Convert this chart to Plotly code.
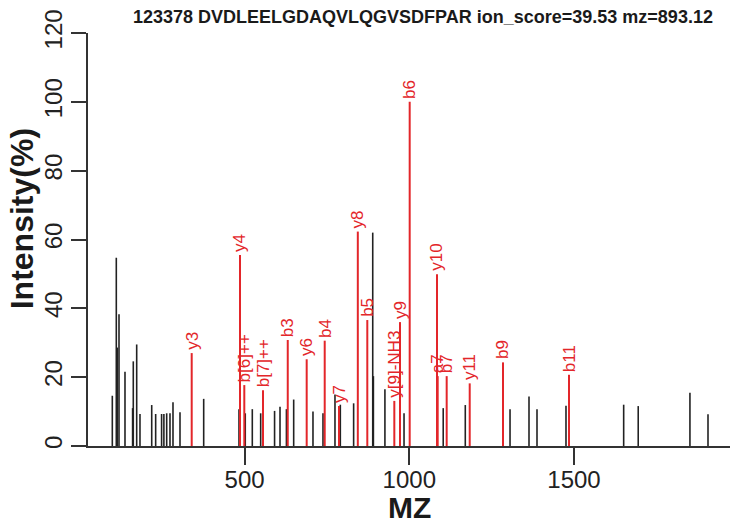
import plotly.graph_objects as go

title_text = "123378 DVDLEELGDAQVLQGVSDFPAR ion_score=39.53 mz=893.12"

# unmatched (black) peaks
black_mz = [98.4, 110.5, 113.5, 118.7, 136.9, 160.0, 162.1, 172.4, 182.4, 218.0,
            230.0, 248.0, 255.0, 263.5, 273.5, 282.6, 303.9, 375.8, 483.0, 502.0,
            523.4, 548.8, 591.0, 607.5, 627.0, 649.0, 707.6, 738.0, 774.4, 790.6,
            831.0, 889.0, 891.0, 926.0, 984.0, 1103.0, 1170.0, 1305.8, 1363.4, 1387.7,
            1475.7, 1650.8, 1695.0, 1852.0, 1906.8]
black_int = [14.6, 54.7, 28.6, 38.3, 21.6, 11.0, 24.6, 29.5, 9.3, 11.9,
             9.3, 9.3, 9.3, 9.5, 9.5, 12.7, 9.8, 13.7, 10.7, 9.5,
             10.7, 9.5, 10.2, 11.4, 10.7, 13.5, 10.0, 9.5, 15.0, 12.0,
             12.4, 62.0, 20.3, 16.5, 9.5, 11.0, 11.9, 10.7, 14.4, 10.7,
             11.7, 12.0, 11.6, 15.5, 9.2]

# matched (red) ion peaks
ion_labels = ["y3", "y4", "b[6]++", "b[7]++", "b3", "y6", "b4", "y7", "y8", "b5",
              "y[9]-NH3", "y9", "b6", "y10", "a7", "b7", "y11", "b9", "b11"]
ion_mz = [339.4, 486.0, 499.1, 555.9, 631.0, 688.5, 743.2, 786.6, 843.7, 872.5,
          954.5, 971.8, 1001.2, 1084.1, 1086.2, 1113.5, 1183.4, 1284.5, 1484.8]
ion_int = [27.0, 55.5, 17.7, 16.2, 30.8, 25.2, 30.6, 11.6, 62.3, 36.6,
           13.1, 36.0, 100.0, 49.9, 20.3, 20.3, 18.2, 24.3, 20.7]

x_ticks = [500, 1000, 1500]
y_ticks = [0, 20, 40, 60, 80, 100, 120]

RED = "#E3262A"
BLACK = "#222222"


def sticks(mz, inten):
    xs, ys = [], []
    for m, v in zip(mz, inten):
        xs += [m, m, None]
        ys += [0, v, None]
    return xs, ys


fig = go.Figure()
bx, by = sticks(black_mz, black_int)
fig.add_trace(go.Scatter(x=bx, y=by, mode="lines",
                         line=dict(color=BLACK, width=1.6),
                         hoverinfo="skip", showlegend=False))
rx, ry = sticks(ion_mz, ion_int)
fig.add_trace(go.Scatter(x=rx, y=ry, mode="lines",
                         line=dict(color=RED, width=2),
                         hoverinfo="skip", showlegend=False))

annotations = []
for lab, m, v in zip(ion_labels, ion_mz, ion_int):
    annotations.append(dict(x=m, y=v, xref="x", yref="y", text=lab,
                            textangle=-90, showarrow=False,
                            xanchor="center", yanchor="bottom", yshift=2,
                            borderpad=0,
                            font=dict(family="Liberation Sans", size=17, color=RED)))

# titles
annotations.append(dict(x=0.522, y=1.0387, xref="paper", yref="paper",
                        text=title_text, showarrow=False,
                        xanchor="center", yanchor="middle",
                        font=dict(family="Liberation Sans", size=18, color="#1a1a1a",
                                  weight="bold")))
annotations.append(dict(x=0.501, y=-0.150, xref="paper", yref="paper",
                        text="MZ", showarrow=False,
                        xanchor="center", yanchor="middle",
                        font=dict(family="Liberation Sans", size=30, color="#1a1a1a",
                                  weight="bold")))
annotations.append(dict(x=-0.1015, y=0.551, xref="paper", yref="paper",
                        text="Intensity(%)", showarrow=False, textangle=-90,
                        xanchor="center", yanchor="middle",
                        font=dict(family="Liberation Sans", size=32, color="#1a1a1a",
                                  weight="bold")))

fig.update_layout(
    width=730, height=530,
    margin=dict(l=88, r=0, t=33, b=84),
    paper_bgcolor="white", plot_bgcolor="white",
    annotations=annotations,
    showlegend=False,
)
fig.update_xaxes(range=[24.6, 1973.6], tickvals=x_ticks,
                 ticktext=[str(t) for t in x_ticks],
                 showgrid=False, zeroline=False, showline=True,
                 linecolor="#333333", linewidth=1.5, automargin=False,
                 ticks="outside", ticklen=17, tickwidth=1.5, tickcolor="#333333",
                 ticklabelstandoff=-6,
                 tickfont=dict(family="Liberation Sans", size=24, color="#222222"))
fig.update_yaxes(range=[0, 120], tickvals=y_ticks,
                 ticktext=[str(t) for t in y_ticks],
                 showgrid=False, zeroline=False, showline=True,
                 linecolor="#333333", linewidth=1.5, automargin=False,
                 ticks="outside", ticklen=15, tickwidth=1.5, tickcolor="#333333",
                 tickangle=-90,
                 tickfont=dict(family="Liberation Sans", size=24, color="#222222"))

fig.write_html("out.html", config={"displayModeBar": False},
               post_script="document.body.style.margin='0';document.body.style.overflow='hidden';")
